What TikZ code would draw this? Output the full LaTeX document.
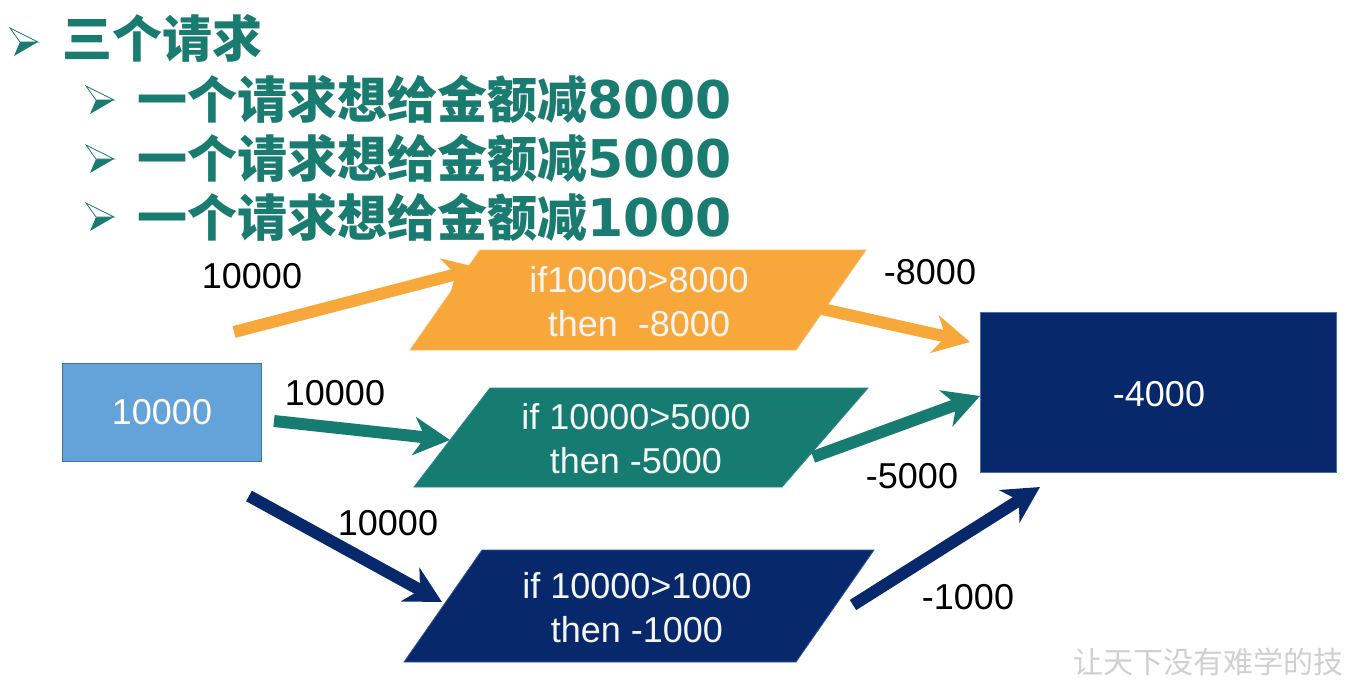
\documentclass[tikz,border=0pt]{standalone}
\usepackage{fontspec}
\setmainfont{Liberation Sans}
\newfontfamily\cjk{Noto Sans CJK SC}
\newfontfamily\digf{DejaVu Sans}
\usetikzlibrary{arrows.meta}
\definecolor{tealt}{HTML}{1A7B70}
\definecolor{orng}{HTML}{F8A83A}
\definecolor{tealb}{HTML}{167B70}
\definecolor{navy}{HTML}{08286C}
\definecolor{lblue}{HTML}{64A2DA}
\definecolor{wm}{HTML}{D0D0D0}
\newcommand{\dg}[1]{{\digf\bfseries\fontsize{52}{52}\selectfont #1}}
\tikzset{
  bul/.pic={
    \fill[tealt] (10,14) -- (28,14) -- (4,28) -- cycle;
    \draw[tealt,line width=0.8pt,fill=white,line join=miter] (0,0) -- (28,14) -- (10,14) -- cycle;
  },
  titletxt/.style={anchor=base west,inner sep=0pt,text=tealt,font=\cjk\bfseries\fontsize{50}{50}\selectfont},
  lbl/.style={inner sep=0pt,text=black,font=\fontsize{36}{36}\selectfont},
  boxtxt/.style={inner sep=0pt,text=white!92!gray,align=center,font=\fontsize{36}{44}\selectfont},
  fatarrow/.style={line width=12pt,-{Stealth[length=36pt,width=38pt,inset=11pt]}},
}
\begin{document}
\begin{tikzpicture}[x=1pt,y=-1pt]
\useasboundingbox (0,0) rectangle (1346,682);
\fill[white] (0,0) rectangle (1346,682);

% titles
\pic at (10,28) {bul};
\node[titletxt] (t0) at (62,58) {三个请求};
\pic at (86,86) {bul};
\node[titletxt] (t1) at (137,119) {一个请求想给金额减\dg{8000}};
\pic at (86,145) {bul};
\node[titletxt] (t2) at (137,177) {一个请求想给金额减\dg{5000}};
\pic at (86,203) {bul};
\node[titletxt] (t3) at (137,236) {一个请求想给金额减\dg{1000}};

% source box
\node[draw=lblue!70!black,line width=1pt,fill=lblue,minimum width=199pt,minimum height=98pt,inner sep=0pt,
      text=white,font=\fontsize{36}{36}\selectfont] (src) at (162,412.5) {10000};

% result box
\node[draw=lblue!60!navy,line width=1pt,fill=navy,minimum width=356pt,minimum height=160pt,inner sep=0pt] (res) at (1158,392) {};
\node[inner sep=0pt,text=white,font=\fontsize{36}{36}\selectfont] (restxt) at (1159,394) {-4000};

% parallelograms
\coordinate (o1) at (480,250); \coordinate (o2) at (866,250); \coordinate (o3) at (796,350); \coordinate (o4) at (410,350);
\fill[orng] (o1) -- (o2) -- (o3) -- (o4) -- cycle;
\draw[orng!80!white,line width=0.8pt] (o1) -- (o2) -- (o3) -- (o4) -- cycle;
\node[boxtxt] (p1) at (639,302) {if10000>8000\\then\ \ -8000};

\coordinate (g1) at (490,388); \coordinate (g2) at (868,388); \coordinate (g3) at (782,487); \coordinate (g4) at (414,487);
\fill[tealb] (g1) -- (g2) -- (g3) -- (g4) -- cycle;
\draw[tealb!70!lblue,line width=0.8pt] (g1) -- (g2) -- (g3) -- (g4) -- cycle;
\node[boxtxt] (p2) at (636,439) {if 10000>5000\\then -5000};

\coordinate (n1) at (482,550); \coordinate (n2) at (874,550); \coordinate (n3) at (796,662); \coordinate (n4) at (404,662);
\fill[navy] (n1) -- (n2) -- (n3) -- (n4) -- cycle;
\draw[navy!60!lblue,line width=0.8pt] (n1) -- (n2) -- (n3) -- (n4) -- cycle;
\node[boxtxt] (p3) at (637,608) {if 10000>1000\\then -1000};

% arrow end points
\coordinate (a1s) at (234,332); \coordinate (a1e) at (480,268);
\coordinate (a2s) at (274,421); \coordinate (a2e) at (450,440);
\coordinate (a3s) at (249,496); \coordinate (a3e) at (442,602);
\coordinate (b1s) at (822,309); \coordinate (b1e) at (970,342);
\coordinate (b2s) at (813,457); \coordinate (b2e) at (980,396);
\coordinate (b3s) at (853,605); \coordinate (b3e) at (1040,487);

\draw[fatarrow,orng] (a1s) -- (a1e);
\draw[fatarrow,tealb] (a2s) -- (a2e);
\draw[fatarrow,navy] (a3s) -- (a3e);
\draw[fatarrow,orng] (b1s) -- (b1e);
\draw[fatarrow,tealb] (b2s) -- (b2e);
\draw[fatarrow,navy] (b3s) -- (b3e);

% labels
\node[lbl] (l1) at (252,276) {10000};
\node[lbl] (l2) at (335,393) {10000};
\node[lbl] (l3) at (388,523) {10000};
\node[lbl] (l4) at (930,272) {-8000};
\node[lbl] (l5) at (912,476) {-5000};
\node[lbl] (l6) at (968,597) {-1000};

% watermark
\node[anchor=west,inner sep=0pt,text=wm,font=\cjk\fontsize{30}{30}\selectfont] (wmk) at (1073,662) {让天下没有难学的技};
\end{tikzpicture}
\end{document}
